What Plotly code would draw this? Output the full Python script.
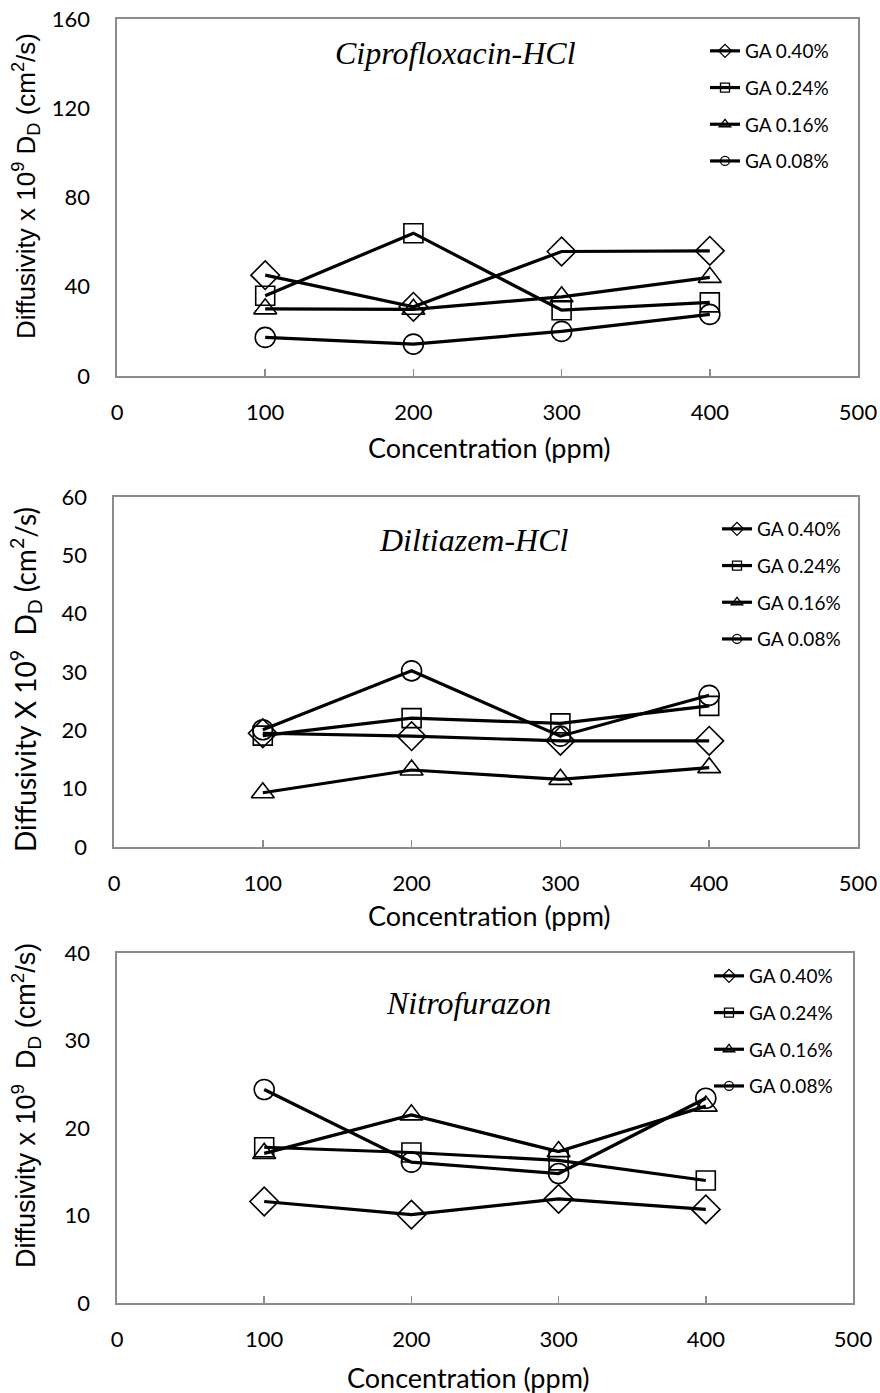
import plotly.graph_objects as go

# ---------------- data ----------------
conc = [100, 200, 300, 400]
series_names = ["GA 0.40%", "GA 0.24%", "GA 0.16%", "GA 0.08%"]

cipro_040 = [45.2, 31.0, 55.8, 56.1]
cipro_024 = [36.0, 64.0, 29.5, 33.0]
cipro_016 = [30.1, 29.9, 35.5, 44.2]
cipro_008 = [17.3, 14.3, 20.0, 27.6]

dilt_040 = [19.5, 19.0, 18.2, 18.2]
dilt_024 = [19.1, 22.1, 21.2, 24.2]
dilt_016 = [9.3, 13.2, 11.6, 13.6]
dilt_008 = [20.1, 30.2, 19.0, 26.0]

nitro_040 = [11.6, 10.1, 11.9, 10.7]
nitro_024 = [17.8, 17.2, 16.3, 14.0]
nitro_016 = [17.1, 21.5, 17.3, 22.5]
nitro_008 = [24.4, 16.1, 14.8, 23.4]

panel_titles = ["Ciprofloxacin-HCl", "Diltiazem-HCl", "Nitrofurazon"]
y_titles = [
    "Diffusivity x 10<sup>9</sup> D<sub>D</sub> (cm<sup>2</sup>/s)",
    "Diffusivity X 10<sup>9</sup>  D<sub>D</sub> (cm<sup>2</sup>/s)",
    "Diffusivity x 10<sup>9</sup>  D<sub>D</sub> (cm<sup>2</sup>/s)",
]
x_title = "Concentration (ppm)"
x_ticks = [0, 100, 200, 300, 400, 500]
y_ticks = [[0, 40, 80, 120, 160], [0, 10, 20, 30, 40, 50, 60], [0, 10, 20, 30, 40]]
y_ranges = [[0, 160], [0, 60], [0, 40]]

panels = [
    [cipro_040, cipro_024, cipro_016, cipro_008],
    [dilt_040, dilt_024, dilt_016, dilt_008],
    [nitro_040, nitro_024, nitro_016, nitro_008],
]

symbols = ["diamond-open", "square-open", "triangle-up-open", "circle-open"]
sizes = [22, 19, 20, 20]
legend_sizes = [10, 9, 10, 9]

# ---------------- layout geometry (screen pixels) ----------------
W, H = 880, 1393

def fx(px):
    return px / W

def fy(py):
    return 1 - py / H

plot_boxes = [  # left, right, top, bottom
    (117, 858, 19, 376),
    (114, 858, 497, 847),
    (117, 853, 953, 1303),
]
title_pos = [(455, 53), (474, 540), (468, 1003)]
ytitle_pos = [(26, 186), (26, 680), (26, 1106)]
ytitle_fonts = [("Liberation Sans", 26), ("Lato", 28), ("Liberation Sans", 27)]
xtitle_pos = [(489, 447), (489, 915), (468, 1377)]
legend_pos = [(705, 32), (717, 510), (709, 957)]  # left edge / top edge

BLACK = "#000000"
AXIS_GREY = "#8c8c8c"
FONT = "Lato"

fig = go.Figure()

for p, data in enumerate(panels):
    xa = "x" if p == 0 else f"x{p+1}"
    ya = "y" if p == 0 else f"y{p+1}"
    leg = "legend" if p == 0 else f"legend{p+1}"
    for s, vals in enumerate(data):
        fig.add_trace(go.Scatter(
            x=conc, y=vals, mode="lines+markers", name=series_names[s],
            xaxis=xa, yaxis=ya, showlegend=False,
            line=dict(color=BLACK, width=3.2),
            marker=dict(symbol=symbols[s], size=sizes[s], color=BLACK,
                        line=dict(color=BLACK, width=1.6)),
        ))
    # legend entries (small markers like the original)
    for s in range(4):
        fig.add_trace(go.Scatter(
            x=[None], y=[None], mode="lines+markers", name=series_names[s],
            xaxis=xa, yaxis=ya, legend=leg, legendgroup=f"p{p}s{s}",
            line=dict(color=BLACK, width=3.2),
            marker=dict(symbol=symbols[s], size=legend_sizes[s], color=BLACK,
                        line=dict(color=BLACK, width=1.3)),
        ))

layout = dict(
    width=W, height=H,
    margin=dict(l=0, r=0, t=0, b=0, pad=0),
    paper_bgcolor="white", plot_bgcolor="white",
    font=dict(family=FONT, color=BLACK),
    showlegend=True,
)

annotations = []
for p in range(3):
    l, r, t, b = plot_boxes[p]
    xk = "xaxis" if p == 0 else f"xaxis{p+1}"
    yk = "yaxis" if p == 0 else f"yaxis{p+1}"
    ya = "y" if p == 0 else f"y{p+1}"
    xa = "x" if p == 0 else f"x{p+1}"
    layout[xk] = dict(
        domain=[fx(l), fx(r)], anchor=ya, range=[0, 500], automargin=False,
        tickvals=x_ticks, ticks="inside", ticklen=7, tickwidth=1.5, tickcolor=AXIS_GREY,
        showline=True, linecolor=AXIS_GREY, linewidth=1.6, mirror=True,
        showgrid=False, zeroline=False, ticklabeloverflow="allow",
        tickfont=dict(family=FONT, size=22, color=BLACK),
        ticklabelstandoff=16,
    )
    layout[yk] = dict(
        domain=[fy(b), fy(t)], anchor=xa, range=y_ranges[p], automargin=False,
        tickvals=y_ticks[p], ticks="",
        showline=True, linecolor=AXIS_GREY, linewidth=1.6, mirror=True,
        showgrid=False, zeroline=False, ticklabeloverflow="allow",
        tickfont=dict(family=FONT, size=22, color=BLACK),
        ticklabelstandoff=21,
    )
    lk = "legend" if p == 0 else f"legend{p+1}"
    lx, ly = legend_pos[p]
    layout[lk] = dict(
        x=fx(lx), y=fy(ly), xanchor="left", yanchor="top",
        bgcolor="rgba(0,0,0,0)", borderwidth=0,
        font=dict(family=FONT, size=19, color=BLACK),
        tracegroupgap=9, itemwidth=30,
    )
    tx, ty = title_pos[p]
    annotations.append(dict(
        text=panel_titles[p], x=fx(tx), y=fy(ty), xref="paper", yref="paper",
        showarrow=False, xanchor="center", yanchor="middle",
        font=dict(family="Liberation Serif", size=32, color=BLACK, style="italic"),
    ))
    yx, yy = ytitle_pos[p]
    fam, fs = ytitle_fonts[p]
    annotations.append(dict(
        text=y_titles[p], x=fx(yx), y=fy(yy), xref="paper", yref="paper",
        showarrow=False, xanchor="center", yanchor="middle", textangle=-90,
        font=dict(family=fam, size=fs, color=BLACK),
    ))
    xx, xy = xtitle_pos[p]
    annotations.append(dict(
        text=x_title, x=fx(xx), y=fy(xy), xref="paper", yref="paper",
        showarrow=False, xanchor="center", yanchor="middle",
        font=dict(family=FONT, size=27, color=BLACK),
    ))

layout["annotations"] = annotations
fig.update_layout(**layout)
fig.write_html(
    "out.html",
    config={"displayModeBar": False, "staticPlot": True},
    post_script="document.body.style.margin='0';document.body.style.overflow='hidden';",
)
